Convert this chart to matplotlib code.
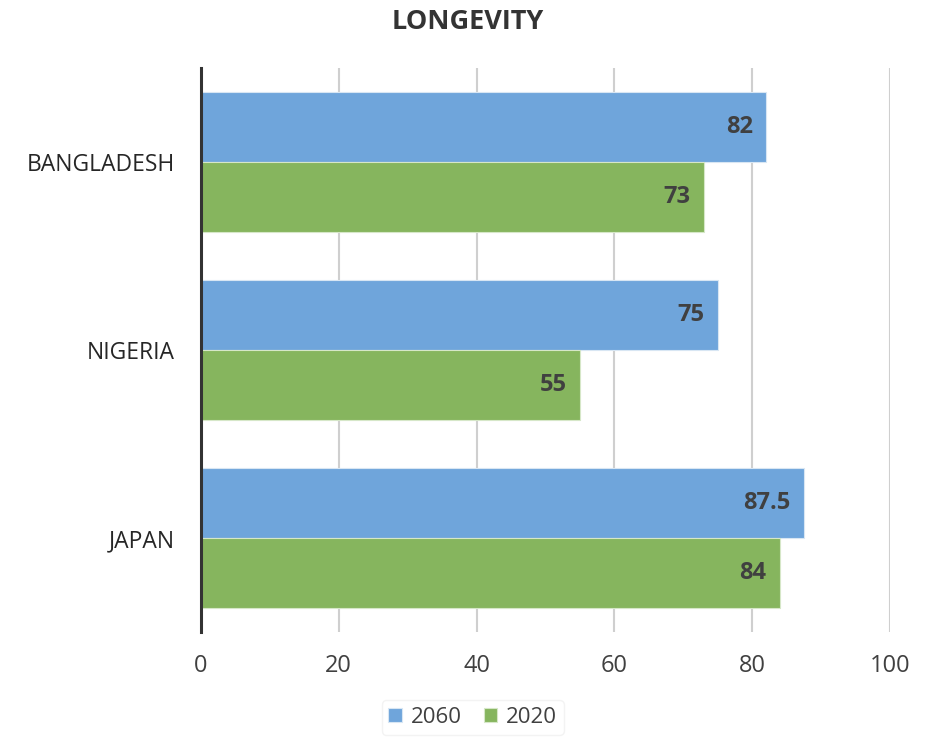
import numpy as np
import matplotlib.pyplot as plt

plt.rcParams['font.family'] = ['Open Sans', 'DejaVu Sans']

countries = ['BANGLADESH', 'NIGERIA', 'JAPAN']
life_2060 = [82, 75, 87.5]
life_2020 = [73, 55, 84]
ticks = [0, 20, 40, 60, 80, 100]

blue = '#6fa5db'
green = '#86b55e'
text_col = '#404040'

fig = plt.figure(figsize=(9.36, 7.37), dpi=100)
ax = fig.add_axes([0.2147, 0.1425, 0.7361, 0.7653])

y = np.arange(len(countries))[::-1].astype(float)
h = 0.373
b1 = ax.barh(y + h / 2, life_2060, height=h, color=blue, edgecolor='#d8e6f3', linewidth=0.8, label='2060', zorder=2)
b2 = ax.barh(y - h / 2, life_2020, height=h, color=green, edgecolor='#d6e7c8', linewidth=0.8, label='2020', zorder=2)

for bars, vals in ((b1, life_2060), (b2, life_2020)):
    for bar, v in zip(bars, vals):
        ax.text(v - 1.9, bar.get_y() + bar.get_height() / 2, f'{v:g}',
                ha='right', va='center', fontsize=17, fontweight='bold', color=text_col, zorder=3)

ax.set_xlim(0, 100)
ax.set_ylim(-0.5, 2.5)
ax.set_xticks(ticks)
ax.set_xticklabels([str(t) for t in ticks], fontsize=17, color=text_col)
ax.set_yticks(y)
ax.set_yticklabels(countries, fontsize=16.5, color='#262626')
ax.tick_params(axis='x', length=0, pad=16)
ax.tick_params(axis='y', length=0, pad=19)
ax.xaxis.grid(True, color='#cfcfcf', linewidth=1.5, zorder=0)
ax.set_axisbelow(True)

for s in ('top', 'right', 'bottom'):
    ax.spines[s].set_visible(False)
ax.spines['left'].set_color('#333333')
ax.spines['left'].set_linewidth(2.2)

fig.suptitle('LONGEVITY', y=0.988, fontsize=19.5, fontweight='bold', color='#333333')

leg = fig.legend(handles=[b1, b2], loc='lower center', bbox_to_anchor=(0.505, -0.012), ncol=2,
                 fontsize=16, frameon=True, handlelength=0.6, handleheight=0.6,
                 handletextpad=0.4, columnspacing=1.0, borderpad=0.3)
leg.get_frame().set_edgecolor('#f0f0f0')
leg.get_frame().set_linewidth(1.0)
for t in leg.get_texts():
    t.set_color(text_col)

fig.savefig('out.png', dpi=100)
